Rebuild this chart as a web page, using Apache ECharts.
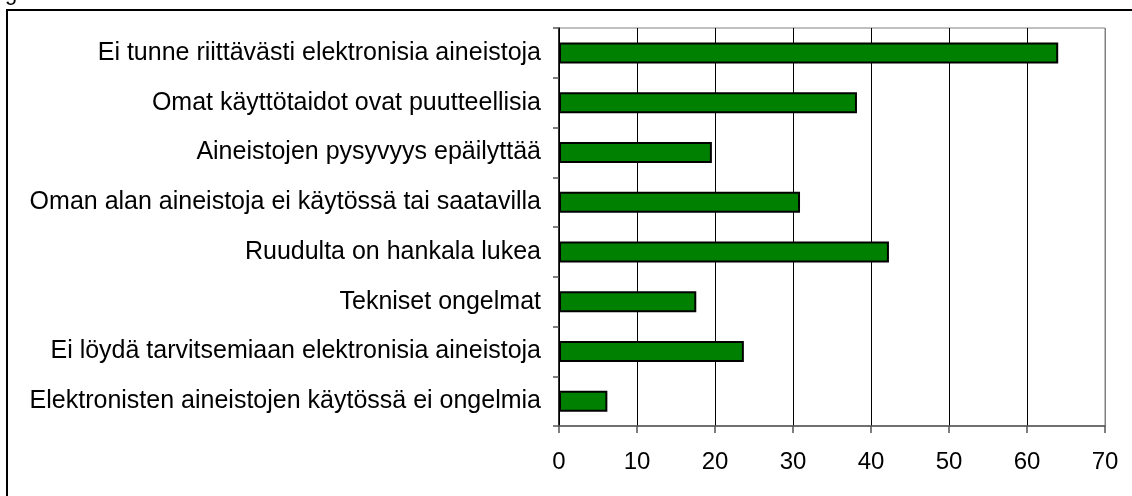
<!DOCTYPE html>
<html>
<head>
<meta charset="utf-8">
<script src="https://cdn.jsdelivr.net/npm/echarts@6/dist/echarts.min.js"></script>
<style>
html,body{margin:0;padding:0;background:#fff;}
#chart{width:1132px;height:496px;}
</style>
</head>
<body>
<div id="chart"></div>
<script>
var categories = [
  'Ei tunne riittävästi elektronisia aineistoja',
  'Omat käyttötaidot ovat puutteellisia',
  'Aineistojen pysyvyys epäilyttää',
  'Oman alan aineistoja ei käytössä tai saatavilla',
  'Ruudulta on hankala lukea',
  'Tekniset ongelmat',
  'Ei löydä tarvitsemiaan elektronisia aineistoja',
  'Elektronisten aineistojen käytössä ei ongelmia'
];
var values = [64.0, 38.2, 19.6, 30.9, 42.3, 17.6, 23.7, 6.2];
var xTicks = [0, 10, 20, 30, 40, 50, 60, 70];

var chart = echarts.init(document.getElementById('chart'), null, {renderer: 'canvas'});
var font = '"Liberation Sans", Arial, sans-serif';
chart.setOption({
  animation: false,
  backgroundColor: '#fff',
  graphic: [
    {type: 'rect', shape: {x: 7, y: 10, width: 1140, height: 500},
     style: {fill: 'none', stroke: '#000', lineWidth: 2}, z: 0},
    {type: 'text', left: 5, top: -17, style: {text: 'g', fontSize: 22, fill: '#000', fontFamily: font}}
  ],
  grid: {left: 559, right: 27, top: 28, bottom: 70, show: true, borderColor: '#808080', borderWidth: 1, backgroundColor: '#fff'},
  xAxis: {
    type: 'value', min: xTicks[0], max: xTicks[xTicks.length - 1], interval: 10,
    axisLine: {show: true, lineStyle: {color: '#555', width: 1.5}},
    axisTick: {show: true, length: 7, lineStyle: {color: '#555', width: 1.5}},
    axisLabel: {fontSize: 24, color: '#000', margin: 24, fontFamily: font},
    splitLine: {show: true, lineStyle: {color: ['#000','#000','#000','#000','#000','#000','#000','#808080'], width: 1}}
  },
  yAxis: {
    type: 'category', data: categories, inverse: true,
    axisLine: {show: true, lineStyle: {color: '#000', width: 1.5}},
    axisTick: {show: true, length: 6, lineStyle: {color: '#555', width: 1.5}},
    axisLabel: {fontSize: 25, color: '#000', margin: 18, fontFamily: font},
    splitLine: {show: false}
  },
  series: [{
    type: 'bar', data: values, barWidth: 21,
    itemStyle: {color: '#008000', borderColor: '#000', borderWidth: 2}
  }]
});
</script>
</body>
</html>
